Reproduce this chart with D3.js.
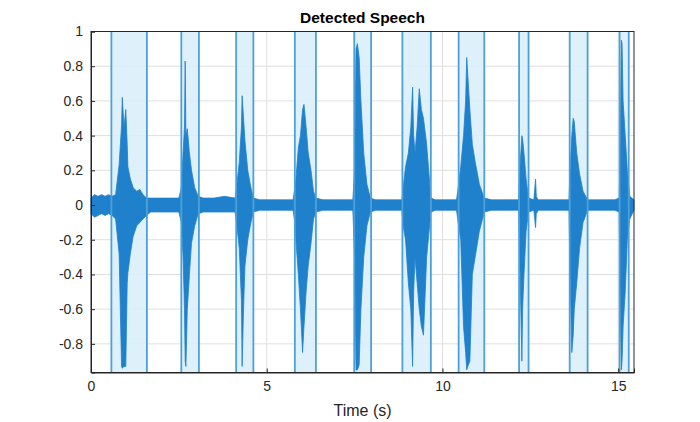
<!DOCTYPE html>
<html>
<head>
<meta charset="utf-8">
<script src="https://cdn.jsdelivr.net/npm/d3@7"></script>
<style>
  body { margin: 0; background: #fff; }
  text { font-family: "Liberation Sans", Arial, sans-serif; }
</style>
</head>
<body>
<svg id="chart" width="700" height="422"></svg>
<script>
// detected speech regions, seconds
const regionStart = [0.58, 2.57, 4.13, 5.80, 7.49, 8.86, 10.46, 12.18, 13.62, 15.04];
const regionEnd   = [1.59, 3.07, 4.62, 6.40, 7.97, 9.67, 11.19, 12.45, 14.13, 15.30];

// waveform envelope: time, upper, lower
const envT  = [0.00, 0.10, 0.20, 0.30, 0.40, 0.50, 0.60, 0.70, 0.80, 0.87, 0.89, 0.94, 0.99, 1.03, 1.05, 1.12, 1.20, 1.30, 1.39, 1.48, 1.58, 1.70, 1.90, 2.10, 2.30, 2.50,
               2.57, 2.62, 2.66, 2.68, 2.70, 2.74, 2.80, 2.86, 2.95, 3.05,
               3.20, 3.50, 3.80, 4.10,
               4.14, 4.22, 4.28, 4.30, 4.34, 4.38, 4.46, 4.55, 4.62,
               4.80, 5.10, 5.40, 5.75,
               5.80, 5.83, 5.90, 5.96, 6.02, 6.06, 6.12, 6.18, 6.26, 6.33, 6.40,
               6.60, 6.90, 7.20, 7.45,
               7.50, 7.54, 7.58, 7.63, 7.68, 7.76, 7.85, 7.95,
               8.10, 8.40, 8.70, 8.85,
               8.88, 8.95, 9.03, 9.10, 9.15, 9.18, 9.22, 9.28, 9.34, 9.40, 9.46, 9.55, 9.67,
               9.80, 10.10, 10.40,
               10.46, 10.52, 10.60, 10.66, 10.69, 10.72, 10.78, 10.85, 10.93, 11.05, 11.19,
               11.40, 11.70, 12.00, 12.17,
               12.20, 12.26, 12.28, 12.32, 12.38, 12.45,
               12.60, 12.65, 12.67, 12.72, 13.00, 13.30, 13.60,
               13.63, 13.68, 13.72, 13.75, 13.82, 13.90, 14.00, 14.13,
               14.30, 14.60, 14.90, 15.03,
               15.06, 15.09, 15.11, 15.14, 15.20, 15.26, 15.33, 15.45];
const envHi = [0.04, 0.06, 0.05, 0.06, 0.05, 0.06, 0.05, 0.06, 0.23, 0.46, 0.62, 0.45, 0.55, 0.35, 0.22, 0.15, 0.10, 0.08, 0.09, 0.06, 0.04, 0.04, 0.04, 0.04, 0.04, 0.04,
               0.10, 0.30, 0.45, 0.83, 0.40, 0.44, 0.30, 0.20, 0.10, 0.05,
               0.04, 0.04, 0.05, 0.04,
               0.10, 0.25, 0.45, 0.63, 0.50, 0.37, 0.20, 0.10, 0.04,
               0.03, 0.03, 0.03, 0.03,
               0.10, 0.15, 0.33, 0.40, 0.55, 0.58, 0.45, 0.30, 0.20, 0.08, 0.04,
               0.03, 0.03, 0.03, 0.03,
               0.20, 0.90, 0.93, 0.85, 0.60, 0.30, 0.12, 0.04,
               0.03, 0.03, 0.03, 0.03,
               0.10, 0.22, 0.30, 0.45, 0.68, 0.40, 0.30, 0.45, 0.67, 0.55, 0.50, 0.35, 0.04,
               0.03, 0.03, 0.03,
               0.12, 0.22, 0.40, 0.60, 0.85, 0.75, 0.55, 0.35, 0.25, 0.12, 0.04,
               0.03, 0.03, 0.03, 0.03,
               0.20, 0.40, 0.38, 0.30, 0.15, 0.04,
               0.03, 0.15, 0.05, 0.03, 0.03, 0.03, 0.03,
               0.20, 0.40, 0.50, 0.48, 0.30, 0.18, 0.08, 0.03,
               0.03, 0.03, 0.03, 0.04,
               0.40, 0.95, 0.93, 0.60, 0.40, 0.20, 0.05, 0.03];
const envLo = [-0.05, -0.07, -0.06, -0.05, -0.06, -0.05, -0.06, -0.08, -0.28, -0.93, -0.94, -0.93, -0.93, -0.45, -0.39, -0.28, -0.18, -0.12, -0.10, -0.08, -0.06, -0.04, -0.04, -0.04, -0.04, -0.04,
               -0.10, -0.30, -0.60, -0.90, -0.93, -0.60, -0.40, -0.22, -0.12, -0.05,
               -0.04, -0.04, -0.04, -0.04,
               -0.10, -0.25, -0.55, -0.93, -0.60, -0.35, -0.20, -0.10, -0.04,
               -0.03, -0.03, -0.03, -0.03,
               -0.10, -0.20, -0.40, -0.60, -0.85, -0.70, -0.50, -0.35, -0.22, -0.08, -0.04,
               -0.03, -0.03, -0.03, -0.03,
               -0.30, -0.95, -0.95, -0.92, -0.60, -0.30, -0.12, -0.04,
               -0.03, -0.03, -0.03, -0.03,
               -0.12, -0.20, -0.45, -0.60, -0.93, -0.50, -0.30, -0.45, -0.60, -0.70, -0.75, -0.30, -0.04,
               -0.03, -0.03, -0.03,
               -0.12, -0.20, -0.70, -0.85, -0.95, -0.93, -0.90, -0.40, -0.30, -0.15, -0.04,
               -0.03, -0.03, -0.03, -0.03,
               -0.30, -0.90, -0.60, -0.40, -0.15, -0.04,
               -0.03, -0.13, -0.05, -0.03, -0.03, -0.03, -0.03,
               -0.40, -0.85, -0.75, -0.60, -0.45, -0.25, -0.10, -0.03,
               -0.03, -0.03, -0.03, -0.04,
               -0.60, -0.95, -0.90, -0.70, -0.50, -0.20, -0.08, -0.03];

const xTicks = [0, 5, 10, 15];
const yTicks = [-0.8, -0.6, -0.4, -0.2, 0, 0.2, 0.4, 0.6, 0.8, 1];

const margin = {top: 31.5, left: 91, right: 66, bottom: 49.5},
      width = 700 - margin.left - margin.right,
      height = 422 - margin.top - margin.bottom,
      waveBlue = '#1f80cc',
      edgeBlue = '#4da0d8',
      shade = '#daf0fb';

const svg = d3.select('#chart');
const g = svg.append('g').attr('transform', `translate(${margin.left},${margin.top})`);

const x = d3.scaleLinear().domain([0, 15.45]).range([0, width]);
const y = d3.scaleLinear().domain([-0.965, 1]).range([height, 0]);

// grid
g.append('g').selectAll('line').data(xTicks.slice(1)).enter().append('line')
  .attr('x1', d => x(d)).attr('x2', d => x(d)).attr('y1', 0).attr('y2', height)
  .attr('stroke', '#dfdfdf');
g.append('g').selectAll('line').data(yTicks.slice(0, -1)).enter().append('line')
  .attr('x1', 0).attr('x2', width).attr('y1', d => y(d)).attr('y2', d => y(d))
  .attr('stroke', '#dfdfdf');

// speech regions
const regions = d3.zip(regionStart, regionEnd);
g.append('g').selectAll('rect').data(regions).enter().append('rect')
  .attr('x', d => x(d[0])).attr('width', d => x(d[1]) - x(d[0]))
  .attr('y', 0).attr('height', height)
  .attr('fill', shade).attr('fill-opacity', 0.9);

// waveform
const env = envT.map((t, i) => ({t, hi: envHi[i], lo: envLo[i]}));
g.append('path').datum(env)
  .attr('d', d3.area().x(d => x(d.t)).y0(d => y(d.lo)).y1(d => y(d.hi)))
  .attr('fill', waveBlue).attr('stroke', waveBlue).attr('stroke-width', 0.8);

// region edges
const edges = regionStart.concat(regionEnd);
g.append('g').selectAll('line').data(edges).enter().append('line')
  .attr('x1', d => x(d)).attr('x2', d => x(d)).attr('y1', 0).attr('y2', height)
  .attr('stroke', edgeBlue).attr('stroke-width', 1.8);

// axes
const xAxis = g.append('g').attr('transform', `translate(0,${height})`)
  .call(d3.axisBottom(x).tickValues(xTicks).tickSize(-4).tickPadding(9));
const yAxis = g.append('g')
  .call(d3.axisLeft(y).tickValues(yTicks).tickSize(-4).tickPadding(8).tickFormat(d => String(d)));
[xAxis, yAxis].forEach(a => {
  a.select('.domain').attr('stroke', '#262626');
  a.selectAll('.tick line').attr('stroke', '#262626');
  a.selectAll('.tick text').attr('fill', '#262626').style('font-size', '14px')
    .style('font-family', '"Liberation Sans", Arial, sans-serif');
});
// top / right box
g.append('rect').attr('width', width).attr('height', height)
  .attr('fill', 'none').attr('stroke', '#262626').attr('stroke-width', 1);

svg.append('text').attr('x', margin.left + width / 2).attr('y', 23)
  .attr('text-anchor', 'middle').style('font-size', '15.5px').style('font-weight', 'bold')
  .attr('fill', '#000').text('Detected Speech');
svg.append('text').attr('x', margin.left + width / 2).attr('y', 416)
  .attr('text-anchor', 'middle').style('font-size', '16px')
  .attr('fill', '#262626').text('Time (s)');
</script>
</body>
</html>
